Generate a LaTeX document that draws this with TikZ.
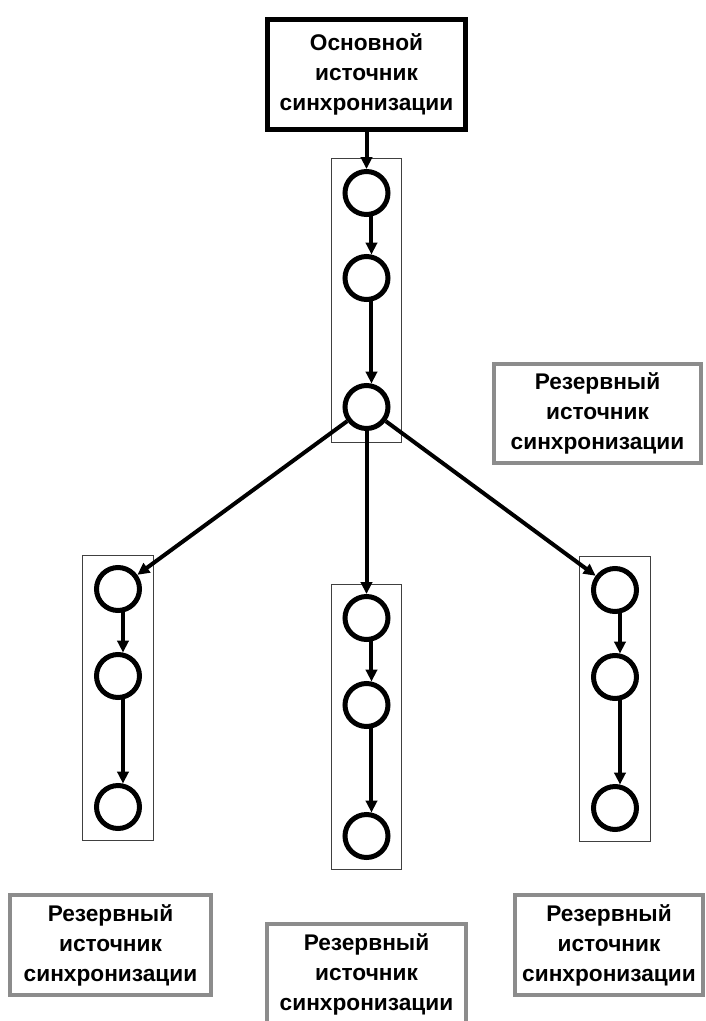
\documentclass[tikz,border=0pt]{standalone}
\usepackage{fontspec}
\setmainfont{Liberation Sans}
\usepackage{tikz}
\usetikzlibrary{arrows.meta,positioning,fit}

\newcommand{\srcfont}{\fontsize{17}{22.5}\selectfont\bfseries}

\begin{document}
\begin{tikzpicture}[x=0.75pt, y=-0.75pt]
  \tikzstyle{source}=[rectangle, draw, line width=3.75pt, align=center, font=\srcfont]
  \tikzstyle{reserve}=[rectangle, draw=black!45, line width=3pt, align=center, font=\srcfont, minimum height=75pt]
  \tikzstyle{station}=[circle, draw, line width=3.75pt, minimum size=32.25pt, inner sep=0pt]
  \tikzstyle{colframe}=[rectangle, draw=black!75, line width=0.75pt, inner xsep=8.5pt, inner ysep=7pt]
  \tikzstyle{leadsto}=[-{Triangle[length=9pt, width=8.5pt]}, line width=3pt]

  \useasboundingbox (0,0) rectangle (706,1021);

  % main source and the upper chain
  \node[source, minimum width=148.5pt, minimum height=82.5pt] (mainsrc) at (366.5,74.5) {Основной\\источник\\синхронизации};
  \node[station, below=27.75pt of mainsrc] (top1) {};
  \node[station, below=27.75pt of top1] (top2) {};
  \node[station, below=60.75pt of top2] (top3) {};
  \node[colframe, inner ysep=8.25pt, fit=(top1)(top3)] (topcol) {};

  \node[reserve, minimum width=155.25pt, minimum height=74.25pt] (resright) at (597.5,413.5) {Резервный\\источник\\синхронизации};

  % = left chain =
  \node[station] (left1) at (118,589) {};
  \node[station, below=29.25pt of left1] (left2) {};
  \node[station, below=62.25pt of left2] (left3) {};
  \node[colframe, fit=(left1)(left3)] (leftcol) {};

  % = middle chain =
  \node[station] (mid1) at (366.5,618) {};
  \node[station, below=29.25pt of mid1] (mid2) {};
  \node[station, below=62.25pt of mid2] (mid3) {};
  \node[colframe, fit=(mid1)(mid3)] (midcol) {};

  % = right chain =
  \node[station] (right1) at (615,590) {};
  \node[station, below=29.25pt of right1] (right2) {};
  \node[station, below=62.25pt of right2] (right3) {};
  \node[colframe, fit=(right1)(right3)] (rightcol) {};

  % reserve sources at the bottom
  \node[reserve, minimum width=150.75pt] (resleft) at (110.5,945) {Резервный\\источник\\синхронизации};
  \node[reserve, minimum width=149.25pt] (resmid) at (366.5,974) {Резервный\\источник\\синхронизации};
  \node[reserve, minimum width=141pt] (resright2) at (609,945) {Резервный\\источник\\синхронизации};

  % arrows
  \draw[leadsto] (mainsrc) -- (top1);
  \draw[leadsto] (top1.-78) -- (top2.78);
  \draw[leadsto] (top2.-78) -- (top3.78);
  \draw[leadsto] (top3) -- (left1);
  \draw[leadsto] (top3) -- (mid1);
  \draw[leadsto] (top3) -- (right1);
  \draw[leadsto] (left1.-78) -- (left2.78);
  \draw[leadsto] (left2.-78) -- (left3.78);
  \draw[leadsto] (mid1.-78) -- (mid2.78);
  \draw[leadsto] (mid2.-78) -- (mid3.78);
  \draw[leadsto] (right1.-78) -- (right2.78);
  \draw[leadsto] (right2.-78) -- (right3.78);
\end{tikzpicture}
\end{document}
